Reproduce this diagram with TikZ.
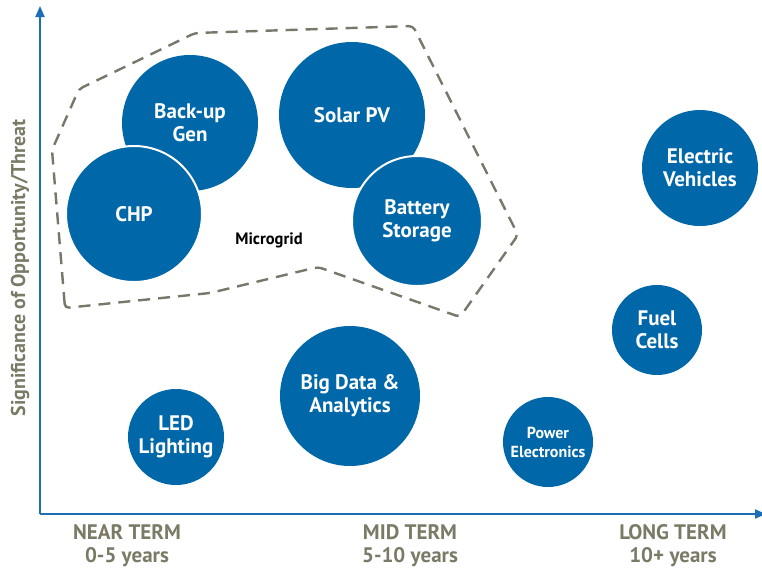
\documentclass[tikz,border=0pt]{standalone}
\usepackage{fontspec}
\setmainfont{PT Sans}
\usetikzlibrary{arrows.meta}
\definecolor{techblue}{HTML}{0067A9}
\definecolor{axisblue}{HTML}{1C6FB5}
\definecolor{termgray}{HTML}{7A7A66}
\definecolor{gridgray}{HTML}{77776A}
\begin{document}
\begin{tikzpicture}[x=1pt, y=-1pt,
    tech/.style={circle, fill=techblue, inner sep=0pt, align=center,
      text=white, font=\fontsize{21}{23}\selectfont\bfseries},
    front/.style={draw=white, line width=2pt},
    axis/.style={axisblue, line width=2pt, -{Triangle[width=9pt,length=11pt]}},
    term/.style={align=center, text=termgray,
      font=\fontsize{21}{23}\selectfont\bfseries}]
			\useasboundingbox (0,0) rectangle (762,568);
			% microgrid boundary
			\draw[gridgray, line width=2.4pt, dash pattern=on 12pt off 8pt, rounded corners=4pt]
			  (65,308) -- (52,150) -- (79,89) -- (195,33) -- (413,26) -- (518,235)
			  -- (460,317) -- (318,267) -- (210,293) -- cycle;
			\node[font=\fontsize{16.5}{19}\selectfont\bfseries] (grid) at (269,240) {Microgrid};
			% technologies
			\node[tech, minimum size=136pt] (gen) at (190,123) {Back-up\\Gen};
			\node[tech, front, minimum size=136pt] (chp) at (134,214) {CHP};
			\node[tech, minimum size=146pt] (pv) at (352,115) {Solar PV};
			\node[tech, front, minimum size=130pt] (bat) at (417,221) {Battery\\Storage};
			\node[tech, minimum size=116pt] (ev) at (700,168) {Electric\\Vehicles};
			\node[tech, minimum size=90pt] (fuel) at (657,330) {Fuel\\Cells};
			\node[tech, minimum size=140pt] (data) at (350,396) {Big Data \&\\Analytics};
			\node[tech, minimum size=96pt] (led) at (176,437) {LED\\Lighting};
			\node[tech, minimum size=90pt, font=\fontsize{16}{19}\selectfont\bfseries] (power) at (548,442) {Power\\Electronics};
			% axes
			\coordinate (o) at (40,514);
			\coordinate (ytop) at (40,6);
			\coordinate (xend) at (766,514);
			\draw[axis] (o) -- (ytop);
			\draw[axis] (o) -- (xend);
			\node[rotate=90, text=termgray, font=\fontsize{20}{23}\selectfont\bfseries] (ylab) at (20,268) {Significance of Opportunity/Threat};
			\node[term] (near) at (127,546) {NEAR TERM\\0-5 years};
			\node[term] (mid) at (410,546) {MID TERM\\5-10 years};
			\node[term] (long) at (673,546) {LONG TERM\\10+ years};
			\end{tikzpicture}
\end{document}
